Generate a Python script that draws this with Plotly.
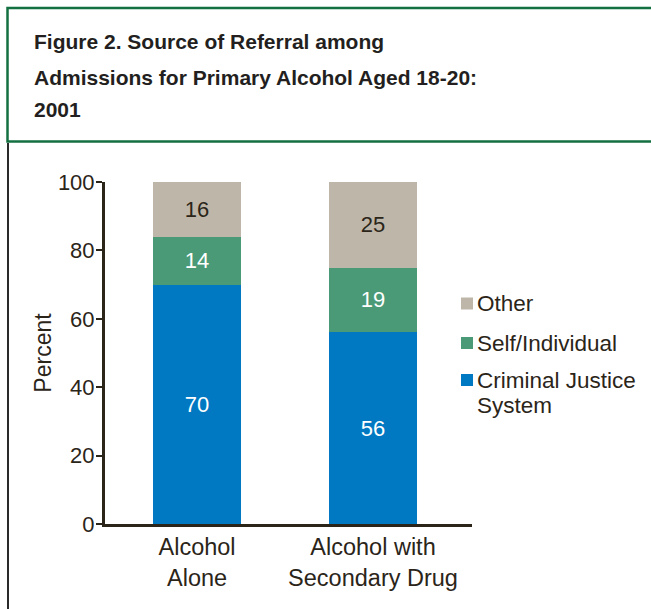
import plotly.graph_objects as go

categories = ["Alcohol<br>Alone", "Alcohol with<br>Secondary Drug"]
criminal = [70, 56]
self_ind = [14, 19]
other = [16, 25]
series_names = ["Criminal Justice<br>System", "Self/Individual", "Other"]
colors = ["#0079c2", "#4a9a78", "#beb6a8"]
label_colors = ["#ffffff", "#ffffff", "#2b2519"]
y_ticks = [0, 20, 40, 60, 80, 100]
title_lines = ["Figure 2. Source of Referral among",
               "Admissions for Primary Alcohol Aged 18-20:",
               "2001"]

W, H = 651, 609
L, R, T, B = 105, 472, 182, 524


def px(x):
    return (x - L) / (R - L)


def py(y):
    return (B - y) / (B - T)


TXT = "#2b2519"
FONT = "Liberation Sans, Arial, sans-serif"

fig = go.Figure()
for vals, name, col, lc in zip([criminal, self_ind, other], series_names, colors, label_colors):
    fig.add_trace(go.Bar(
        x=[0, 1], y=vals, name=name, marker=dict(color=col, line=dict(width=0)),
        text=[str(v) for v in vals], textposition="inside", insidetextanchor="middle",
        textangle=0, constraintext="none",
        textfont=dict(color=lc, size=22, family=FONT), showlegend=False,
        hoverinfo="skip",
    ))

shapes = []
annotations = []
# frame
shapes.append(dict(type="rect", xref="paper", yref="paper",
                   x0=px(7.5), x1=px(665), y0=py(8), y1=py(141.5),
                   line=dict(color="#137040", width=2.5), fillcolor="rgba(0,0,0,0)", layer="above"))
shapes.append(dict(type="line", xref="paper", yref="paper",
                   x0=px(8), x1=px(8), y0=py(143), y1=py(620),
                   line=dict(color="#2a2a2a", width=2)))
# title
for i, (line, yc) in enumerate(zip(title_lines, [42, 77.5, 109.5])):
    annotations.append(dict(text=line, xref="paper", yref="paper", x=px(32), y=py(yc),
                            xanchor="left", yanchor="middle", showarrow=False,
                            font=dict(family=FONT, size=21, color="#231f20", weight="bold")))
# legend (top to bottom: Other, Self/Individual, Criminal Justice System)
leg_y = [303.5, 343, 380]
for name, col, yc in zip(series_names[::-1], colors[::-1], leg_y):
    shapes.append(dict(type="rect", xref="paper", yref="paper",
                       x0=px(461), x1=px(473), y0=py(yc - 6), y1=py(yc + 6),
                       fillcolor=col, line=dict(width=0)))
    for k, part in enumerate(name.split("<br>")):
        annotations.append(dict(text=part, xref="paper", yref="paper", x=px(475), y=py(yc + 25.5 * k),
                                xanchor="left", yanchor="middle",
                                align="left", showarrow=False,
                                font=dict(family=FONT, size=22.5, color=TXT)))

fig.update_layout(
    width=W, height=H,
    margin=dict(l=L, r=W - R, t=T, b=H - B, autoexpand=False),
    paper_bgcolor="white", plot_bgcolor="white",
    barmode="stack", bargap=0.5,
    shapes=shapes, annotations=annotations,
    font=dict(family=FONT, size=22, color=TXT),
    xaxis=dict(range=[-0.523, 1.5625], tickmode="array", tickvals=[0, 1], ticktext=categories,
               showline=True, linewidth=3, linecolor=TXT, ticks="", showgrid=False,
               zeroline=False, tickfont=dict(size=23.5, color=TXT, family=FONT),
               fixedrange=True),
    yaxis=dict(range=[0, 100], tickmode="array", tickvals=y_ticks,
               showline=True, linewidth=3, linecolor=TXT, ticks="outside", ticklen=6,
               tickwidth=2, tickcolor=TXT, showgrid=False, zeroline=False,
               ticklabelstandoff=-3,
               tickfont=dict(size=22, color=TXT, family=FONT),
               title=dict(text="Percent", standoff=0, font=dict(size=23, color=TXT, family=FONT)),
               fixedrange=True),
)

fig.write_html("out.html", config={"displayModeBar": False},
               post_script="document.body.style.margin='0px';document.body.style.overflow='hidden';")
